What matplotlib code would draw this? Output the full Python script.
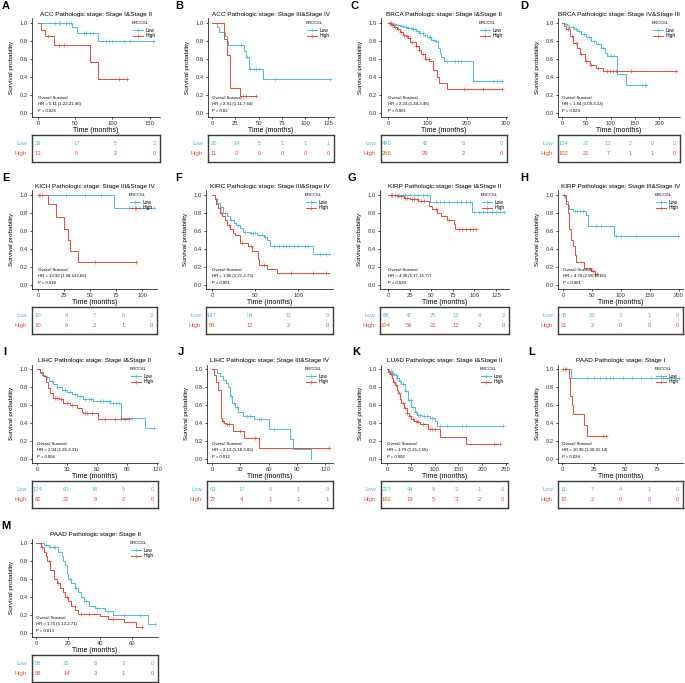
import numpy as np
import matplotlib
matplotlib.use('Agg')
import matplotlib.pyplot as plt
from matplotlib.lines import Line2D

plt.rcParams['font.family'] = ['Liberation Sans', 'DejaVu Sans']

LOW_COLOR = '#4DBBD5'
HIGH_COLOR = '#E64B35'
GROUPS = ['Low', 'High']

# ------------------------------------------------------------------ data
A_TITLE = 'ACC Pathologic stage: Stage I&Stage II'
A_HR = 'HR = 5.11 (1.22-21.46)'; A_P = 'P = 0.026'
A_LOW_T = [0, 46, 53, 80, 156]
A_LOW_S = [1, 0.95, 0.89, 0.80, 0.80]
A_LOW_C = [23, 28, 30, 37, 41, 44, 62, 65, 70, 74, 91, 95, 100, 116, 124, 155]
A_HIGH_T = [0, 4, 10, 21, 70, 80, 120]
A_HIGH_S = [1, 0.92, 0.85, 0.75, 0.56, 0.375, 0.375]
A_HIGH_C = [14, 28, 35, 109, 120]
A_BREAKS = [0, 50, 100, 150]
A_RISK_LOW = [33, 17, 5, 2]
A_RISK_HIGH = [13, 5, 2, 0]

B_TITLE = 'ACC Pathologic stage: Stage III&Stage IV'
B_HR = 'HR = 2.91 (1.11-7.64)'; B_P = 'P = 0.03'
B_LOW_T = [0, 5, 8, 14, 16, 17, 34, 37, 40, 55, 127]
B_LOW_S = [1, 0.95, 0.90, 0.85, 0.80, 0.75, 0.69, 0.62, 0.49, 0.37, 0.37]
B_LOW_C = [31, 38, 41, 45, 47, 51, 68, 127]
B_HIGH_T = [0, 13, 16, 19, 30, 47]
B_HIGH_S = [1, 0.82, 0.64, 0.27, 0.18, 0.18]
B_HIGH_C = [33, 37, 47]
B_BREAKS = [0, 25, 50, 75, 100, 125]
B_RISK_LOW = [20, 14, 5, 1, 1, 1]
B_RISK_HIGH = [11, 3, 0, 0, 0, 0]

C_TITLE = 'BRCA Pathologic stage: Stage I&Stage II'
C_HR = 'HR = 2.23 (1.44-3.46)'; C_P = 'P < 0.001'
C_LOW_T = [0, 5, 10, 15, 20, 30, 40, 50, 60, 70, 80, 90, 100, 110, 120, 128, 131, 135, 143, 217, 290]
C_LOW_S = [1, 0.995, 0.99, 0.985, 0.98, 0.97, 0.96, 0.945, 0.93, 0.91, 0.89, 0.87, 0.84, 0.81, 0.80, 0.72, 0.66, 0.62, 0.58, 0.35, 0.35]
C_LOW_C = [3, 8, 12, 18, 25, 33, 38, 45, 52, 58, 63, 68, 75, 82, 88, 95, 103, 108, 115, 122, 150, 170, 179, 185, 268, 276, 285, 290]
C_HIGH_T = [0, 8, 15, 22, 30, 38, 45, 50, 57, 70, 78, 85, 95, 105, 114, 124, 130, 150, 289]
C_HIGH_S = [1, 0.98, 0.96, 0.93, 0.90, 0.87, 0.85, 0.83, 0.79, 0.74, 0.70, 0.65, 0.60, 0.58, 0.47, 0.40, 0.33, 0.26, 0.26]
C_HIGH_C = [5, 10, 18, 25, 32, 40, 48, 55, 62, 70, 78, 88, 96, 104, 192, 241, 289]
C_BREAKS = [0, 100, 200, 300]
C_RISK_LOW = [490, 42, 6, 0]
C_RISK_HIGH = [266, 29, 2, 0]

D_TITLE = 'BRCA Pathologic stage: Stage IV&Stage III'
D_HR = 'HR = 1.84 (1.08-3.13)'; D_P = 'P = 0.024'
D_LOW_T = [0, 5, 10, 15, 20, 25, 30, 40, 50, 60, 70, 80, 88, 92, 114, 132, 174]
D_LOW_S = [1, 0.99, 0.98, 0.96, 0.95, 0.93, 0.91, 0.88, 0.84, 0.80, 0.77, 0.72, 0.66, 0.63, 0.43, 0.31, 0.31]
D_LOW_C = [8, 15, 22, 28, 35, 45, 55, 65, 75, 85, 100, 108, 164, 171, 174]
D_HIGH_T = [0, 5, 9, 16, 23, 30, 37, 47, 57, 71, 85, 235]
D_HIGH_S = [1, 0.97, 0.93, 0.85, 0.78, 0.72, 0.65, 0.58, 0.53, 0.50, 0.46, 0.46]
D_HIGH_C = [12, 20, 28, 40, 50, 60, 75, 92, 99, 106, 112, 143, 235]
D_BREAKS = [0, 50, 100, 150, 200, 250]
D_RISK_LOW = [154, 37, 13, 2, 0, 0]
D_RISK_HIGH = [102, 21, 7, 1, 1, 0]

E_TITLE = 'KICH Pathologic stage: Stage III&Stage IV'
E_HR = 'HR = 13.92 (1.58-122.66)'; E_P = 'P = 0.018'
E_LOW_T = [0, 73, 111]
E_LOW_S = [1, 0.86, 0.86]
E_LOW_C = [2, 27, 45, 60, 87, 90, 94, 98, 104, 111]
E_HIGH_T = [0, 10, 17, 25, 29, 31, 38, 94]
E_HIGH_S = [1, 0.9, 0.75, 0.625, 0.5, 0.375, 0.25, 0.25]
E_HIGH_C = [1, 4, 55, 94]
E_BREAKS = [0, 25, 50, 75, 100]
E_RISK_LOW = [10, 9, 7, 6, 2]
E_RISK_HIGH = [10, 6, 2, 1, 0]

F_TITLE = 'KIRC Pathologic stage: Stage III&Stage IV'
F_HR = 'HR = 1.86 (1.27-2.73)'; F_P = 'P = 0.001'
F_LOW_T = [0, 3, 6, 9, 13, 17, 21, 25, 28, 32, 36, 44, 52, 60, 64, 68, 118, 136]
F_LOW_S = [1, 0.95, 0.91, 0.87, 0.80, 0.76, 0.72, 0.69, 0.67, 0.63, 0.59, 0.575, 0.55, 0.53, 0.50, 0.435, 0.34, 0.34]
F_LOW_C = [5, 10, 15, 22, 30, 38, 45, 48, 50, 55, 58, 62, 72, 78, 82, 86, 90, 95, 100, 108, 112, 125, 133, 136]
F_HIGH_T = [0, 3, 5, 7, 9, 12, 15, 18, 21, 24, 27, 32, 42, 46, 53, 55, 64, 75, 136]
F_HIGH_S = [1, 0.95, 0.9, 0.85, 0.8, 0.76, 0.725, 0.67, 0.62, 0.58, 0.55, 0.46, 0.43, 0.37, 0.29, 0.22, 0.17, 0.124, 0.124]
F_HIGH_C = [10, 20, 35, 45, 60, 92, 117, 133]
F_BREAKS = [0, 50, 100, 150]
F_RISK_LOW = [147, 54, 11, 0]
F_RISK_HIGH = [58, 12, 2, 0]

G_TITLE = 'KIRP Pathologic stage: Stage I&Stage II'
G_HR = 'HR = 4.30 (1.17-15.77)'; G_P = 'P = 0.028'
G_LOW_T = [0, 49, 97, 134]
G_LOW_S = [1, 0.92, 0.81, 0.81]
G_LOW_C = [5, 10, 13, 17, 20, 25, 30, 35, 40, 45, 55, 60, 65, 70, 80, 85, 90, 95, 100, 105, 110, 115, 120, 125, 130, 134]
G_HIGH_T = [0, 10, 18, 25, 35, 47, 51, 57, 61, 68, 76, 78, 102]
G_HIGH_S = [1, 0.99, 0.97, 0.95, 0.93, 0.88, 0.84, 0.80, 0.76, 0.72, 0.68, 0.62, 0.62]
G_HIGH_C = [3, 5, 8, 12, 15, 20, 22, 28, 30, 33, 38, 42, 55, 70, 82, 86, 90, 95, 98, 102]
G_BREAKS = [0, 25, 50, 75, 100, 125]
G_RISK_LOW = [88, 47, 25, 12, 6, 2]
G_RISK_HIGH = [104, 56, 21, 12, 2, 0]

H_TITLE = 'KIRP Pathologic stage: Stage III&Stage IV'
H_HR = 'HR = 4.70 (2.08-10.60)'; H_P = 'P < 0.001'
H_LOW_T = [0, 3, 6, 9, 11, 17, 40, 44, 88, 200]
H_LOW_S = [1, 0.97, 0.93, 0.89, 0.845, 0.826, 0.78, 0.65, 0.545, 0.545]
H_LOW_C = [20, 25, 30, 35, 57, 66, 92, 100, 126, 198]
H_HIGH_T = [0, 6, 9, 11, 14, 17, 20, 23, 37, 49, 55, 59]
H_HIGH_S = [1, 0.9, 0.8, 0.62, 0.5, 0.43, 0.33, 0.25, 0.19, 0.15, 0.12, 0.12]
H_HIGH_C = [2, 52, 55, 59]
H_BREAKS = [0, 50, 100, 150, 200]
H_RISK_LOW = [45, 10, 3, 1, 0]
H_RISK_HIGH = [21, 2, 0, 0, 0]

I_TITLE = 'LIHC Pathologic stage: Stage I&Stage II'
I_HR = 'HR = 2.04 (1.26-3.31)'; I_P = 'P = 0.004'
I_LOW_T = [0, 3, 5, 8, 12, 16, 20, 25, 30, 35, 40, 46, 56, 73, 84, 108, 117]
I_LOW_S = [1, 0.96, 0.93, 0.91, 0.87, 0.83, 0.80, 0.77, 0.74, 0.72, 0.70, 0.67, 0.64, 0.62, 0.45, 0.337, 0.337]
I_LOW_C = [10, 15, 20, 28, 33, 38, 43, 48, 52, 54, 63, 66, 69, 72, 76, 79, 82, 95, 117]
I_HIGH_T = [0, 3, 6, 9, 11, 13, 16, 22, 26, 33, 40, 45, 46, 61, 92]
I_HIGH_S = [1, 0.97, 0.92, 0.85, 0.79, 0.73, 0.675, 0.66, 0.62, 0.60, 0.56, 0.525, 0.506, 0.44, 0.44]
I_HIGH_C = [18, 20, 24, 30, 35, 48, 50, 55, 68, 78, 84, 88, 92]
I_BREAKS = [0, 30, 60, 90, 120]
I_RISK_LOW = [174, 60, 26, 5, 0]
I_RISK_HIGH = [82, 22, 8, 2, 0]

J_TITLE = 'LIHC Pathologic stage: Stage III&Stage IV'
J_HR = 'HR = 2.13 (1.18-3.82)'; J_P = 'P = 0.012'
J_LOW_T = [0, 5, 8, 12, 15, 17, 19, 21, 24, 28, 33, 42, 44, 60, 83, 86, 105]
J_LOW_S = [1, 0.95, 0.92, 0.88, 0.84, 0.80, 0.70, 0.62, 0.58, 0.52, 0.48, 0.47, 0.44, 0.326, 0.22, 0.11, 0.0]
J_LOW_C = [20, 23, 26, 37, 40, 50, 52, 66]
J_HIGH_T = [0, 2, 4, 6, 10, 11, 13, 15, 22, 34, 50, 124]
J_HIGH_S = [1, 0.93, 0.85, 0.77, 0.45, 0.42, 0.40, 0.38, 0.31, 0.23, 0.115, 0.115]
J_HIGH_C = [12, 16, 18, 30, 45, 124]
J_BREAKS = [0, 30, 60, 90, 120]
J_RISK_LOW = [63, 17, 6, 1, 0]
J_RISK_HIGH = [27, 4, 1, 1, 1]

K_TITLE = 'LUAD Pathologic stage: Stage I&Stage II'
K_HR = 'HR = 1.79 (1.25-2.56)'; K_P = 'P = 0.002'
K_LOW_T = [0, 5, 10, 15, 20, 25, 30, 37, 44, 51, 58, 62, 73, 90, 100, 106, 243]
K_LOW_S = [1, 0.98, 0.96, 0.93, 0.90, 0.87, 0.83, 0.75, 0.656, 0.58, 0.525, 0.49, 0.47, 0.45, 0.42, 0.364, 0.364]
K_LOW_C = [8, 12, 18, 22, 28, 33, 40, 46, 50, 55, 60, 65, 70, 78, 85, 95, 112, 125, 158, 165, 243]
K_HIGH_T = [0, 3, 6, 10, 13, 16, 20, 23, 27, 30, 35, 41, 46, 51, 56, 62, 69, 87, 111, 166, 238]
K_HIGH_S = [1, 0.97, 0.94, 0.90, 0.86, 0.82, 0.77, 0.73, 0.67, 0.62, 0.56, 0.51, 0.47, 0.44, 0.42, 0.41, 0.38, 0.33, 0.244, 0.165, 0.165]
K_HIGH_C = [5, 9, 15, 18, 25, 33, 38, 43, 48, 54, 60, 66, 75, 90, 95, 100, 225, 238]
K_BREAKS = [0, 50, 100, 150, 200, 250]
K_RISK_LOW = [227, 44, 9, 3, 1, 0]
K_RISK_HIGH = [162, 19, 5, 3, 2, 0]

L_TITLE = 'PAAD Pathologic stage: Stage I'
L_HR = 'HR = 10.90 (1.30-91.14)'; L_P = 'P = 0.028'
L_LOW_T = [0, 7, 92]
L_LOW_S = [1, 0.9, 0.9]
L_LOW_C = [2, 20, 25, 30, 35, 38, 40, 48, 55, 62, 70, 80, 88, 92]
L_HIGH_T = [0, 5.5, 6, 6.5, 7.5, 8.5, 17, 20, 35]
L_HIGH_S = [1, 0.9, 0.8, 0.7, 0.6, 0.5, 0.375, 0.25, 0.25]
L_HIGH_C = [0.5, 3, 32, 35]
L_BREAKS = [0, 25, 50, 75, 100]
L_RISK_LOW = [11, 7, 4, 1, 0]
L_RISK_HIGH = [10, 2, 0, 0, 0]

M_TITLE = 'PAAD Pathologic stage: Stage II'
M_HR = 'HR = 1.75 (1.13-2.71)'; M_P = 'P = 0.013'
M_LOW_T = [0, 5, 8, 14, 16, 17, 18, 19, 20, 22, 24, 26, 28, 30, 33, 37, 43, 48, 70, 74]
M_LOW_S = [1, 0.98, 0.95, 0.90, 0.85, 0.80, 0.75, 0.65, 0.60, 0.55, 0.50, 0.45, 0.40, 0.35, 0.30, 0.27, 0.24, 0.20, 0.10, 0.10]
M_LOW_C = [3, 6, 9, 11, 12, 21, 25, 31, 38, 45, 55, 65, 74]
M_HIGH_T = [0, 3, 5, 6, 7, 9, 11, 13, 15, 17, 18, 20, 22, 24, 26, 40, 45, 55, 62, 66]
M_HIGH_S = [1, 0.95, 0.90, 0.85, 0.80, 0.70, 0.60, 0.55, 0.50, 0.45, 0.40, 0.35, 0.30, 0.25, 0.21, 0.18, 0.15, 0.12, 0.06, 0.06]
M_HIGH_C = [4, 8, 14, 19, 28, 33, 48, 66]
M_BREAKS = [0, 20, 40, 60, 80]
M_RISK_LOW = [58, 30, 8, 3, 0]
M_RISK_HIGH = [58, 14, 3, 1, 0]

# ------------------------------------------------------------------ layout (pixels)
W, H = 685, 683
ROWS = [0, 172, 346, 520]
LAYOUT = {
    # letter: (row, letter_x, axes_left, axes_right, xlim, xticks)
    'A': (0, 2, 32, 160, (-8.1, 164), [0, 50, 100, 150]),
    'B': (0, 175, 208, 334, (-4.3, 131), [0, 25, 50, 75, 100, 125]),
    'C': (0, 350, 381, 507, (-17.8, 302.5), [0, 100, 200, 300]),
    'D': (0, 520, 558, 680, (-8.2, 243), [0, 50, 100, 150, 200]),
    'E': (1, 2, 32, 157, (-5.8, 114), [0, 25, 50, 75, 100]),
    'F': (1, 175, 206, 333, (-7, 140.7), [0, 50, 100]),
    'G': (1, 347, 380, 509, (-9.3, 140), [0, 25, 50, 75, 100, 125]),
    'H': (1, 520, 558, 683, (-8.6, 207), [0, 50, 100, 150, 200]),
    'I': (2, 3, 32, 158, (-5, 121), [0, 30, 60, 90, 120]),
    'J': (2, 178, 207, 333, (-5.3, 128), [0, 30, 60, 90, 120]),
    'K': (2, 352, 381, 508, (-12.6, 254), [0, 50, 100, 150, 200, 250]),
    'L': (2, 528, 558, 683, (-3.2, 95.5), [0, 25, 50, 75]),
    'M': (3, 1, 32, 158, (-2.5, 76), [0, 20, 40, 60]),
}

PANEL_DATA = {
    'A': (A_TITLE, A_HR, A_P, A_LOW_T, A_LOW_S, A_LOW_C, A_HIGH_T, A_HIGH_S, A_HIGH_C, A_BREAKS, A_RISK_LOW, A_RISK_HIGH),
    'B': (B_TITLE, B_HR, B_P, B_LOW_T, B_LOW_S, B_LOW_C, B_HIGH_T, B_HIGH_S, B_HIGH_C, B_BREAKS, B_RISK_LOW, B_RISK_HIGH),
    'C': (C_TITLE, C_HR, C_P, C_LOW_T, C_LOW_S, C_LOW_C, C_HIGH_T, C_HIGH_S, C_HIGH_C, C_BREAKS, C_RISK_LOW, C_RISK_HIGH),
    'D': (D_TITLE, D_HR, D_P, D_LOW_T, D_LOW_S, D_LOW_C, D_HIGH_T, D_HIGH_S, D_HIGH_C, D_BREAKS, D_RISK_LOW, D_RISK_HIGH),
    'E': (E_TITLE, E_HR, E_P, E_LOW_T, E_LOW_S, E_LOW_C, E_HIGH_T, E_HIGH_S, E_HIGH_C, E_BREAKS, E_RISK_LOW, E_RISK_HIGH),
    'F': (F_TITLE, F_HR, F_P, F_LOW_T, F_LOW_S, F_LOW_C, F_HIGH_T, F_HIGH_S, F_HIGH_C, F_BREAKS, F_RISK_LOW, F_RISK_HIGH),
    'G': (G_TITLE, G_HR, G_P, G_LOW_T, G_LOW_S, G_LOW_C, G_HIGH_T, G_HIGH_S, G_HIGH_C, G_BREAKS, G_RISK_LOW, G_RISK_HIGH),
    'H': (H_TITLE, H_HR, H_P, H_LOW_T, H_LOW_S, H_LOW_C, H_HIGH_T, H_HIGH_S, H_HIGH_C, H_BREAKS, H_RISK_LOW, H_RISK_HIGH),
    'I': (I_TITLE, I_HR, I_P, I_LOW_T, I_LOW_S, I_LOW_C, I_HIGH_T, I_HIGH_S, I_HIGH_C, I_BREAKS, I_RISK_LOW, I_RISK_HIGH),
    'J': (J_TITLE, J_HR, J_P, J_LOW_T, J_LOW_S, J_LOW_C, J_HIGH_T, J_HIGH_S, J_HIGH_C, J_BREAKS, J_RISK_LOW, J_RISK_HIGH),
    'K': (K_TITLE, K_HR, K_P, K_LOW_T, K_LOW_S, K_LOW_C, K_HIGH_T, K_HIGH_S, K_HIGH_C, K_BREAKS, K_RISK_LOW, K_RISK_HIGH),
    'L': (L_TITLE, L_HR, L_P, L_LOW_T, L_LOW_S, L_LOW_C, L_HIGH_T, L_HIGH_S, L_HIGH_C, L_BREAKS, L_RISK_LOW, L_RISK_HIGH),
    'M': (M_TITLE, M_HR, M_P, M_LOW_T, M_LOW_S, M_LOW_C, M_HIGH_T, M_HIGH_S, M_HIGH_C, M_BREAKS, M_RISK_LOW, M_RISK_HIGH),
}

fig = plt.figure(figsize=(W / 100, H / 100), dpi=100)


def fx(px):
    return px / W


def fy(py):
    return 1 - py / H


def axes_px(left, top, right, bottom):
    return fig.add_axes([fx(left), fy(bottom), (right - left) / W, (bottom - top) / H])


def step_value(T, S, c):
    i = np.searchsorted(np.asarray(T, float), c, side='right') - 1
    return np.asarray(S, float)[np.clip(i, 0, len(S) - 1)]


def ftext(x, y, s, **kw):
    fig.text(fx(x), fy(y), s, **kw)


for letter, (row, lx, L, R, xlim, xticks) in LAYOUT.items():
    (title, hr, p, lt, ls, lc, ht, hs, hc, breaks, rlow, rhigh) = PANEL_DATA[letter]
    oy = ROWS[row]

    ax = axes_px(L, oy + 18.5, R, oy + 117)
    ax.set_xlim(*xlim)
    ax.set_ylim(-0.05, 1.05)
    for T, S, C, col in ((lt, ls, lc, LOW_COLOR), (ht, hs, hc, HIGH_COLOR)):
        ax.step(T, S, where='post', color=col, lw=0.7, clip_on=False)
        ax.plot(C, step_value(T, S, C), ls='none', marker='+', ms=2.6, mew=0.45, color=col, clip_on=False)
    ax.set_xticks(xticks)
    ax.set_yticks([0, 0.2, 0.4, 0.6, 0.8, 1.0])
    ax.set_yticklabels(['0.0', '0.2', '0.4', '0.6', '0.8', '1.0'])
    ax.tick_params(labelsize=4.2, length=1.6, width=0.5, pad=1.2, colors='black', labelcolor='#333333')
    for sp in ('top', 'right'):
        ax.spines[sp].set_visible(False)
    for sp in ('left', 'bottom'):
        ax.spines[sp].set_linewidth(0.5)
    ax.text(0, 0.16, 'Overall Survival', fontsize=3.1, va='center', ha='left')
    ax.text(0, 0.09, hr, fontsize=3.1, va='center', ha='left')
    ax.text(0, 0.02, p, fontsize=3.1, va='center', ha='left')

    # titles and labels
    ftext((L + R) / 2, oy + 14.5, title, fontsize=4.6, ha='center', va='center')
    ftext(lx, oy + 6, letter, fontsize=8, fontweight='bold', ha='left', va='center')
    ftext((L + R) / 2, oy + 131, 'Time (months)', fontsize=5, ha='center', va='center')
    ftext(L - 20, oy + 67.5, 'Survival probability', fontsize=4.6, rotation=90, ha='center', va='center')

    # legend
    ftext(R - 28, oy + 23, 'ERCC6L', fontsize=3.1, ha='left', va='center')
    for k, (g, col) in enumerate(zip(GROUPS, (LOW_COLOR, HIGH_COLOR))):
        yy = fy(oy + 30 + 6 * k)
        fig.add_artist(Line2D([fx(R - 27), fx(R - 17)], [yy, yy], color=col, lw=0.7, transform=fig.transFigure))
        fig.add_artist(Line2D([fx(R - 22)], [yy], color=col, marker='+', ms=2.6, mew=0.45, transform=fig.transFigure))
        ftext(R - 14, oy + 30 + 6 * k, g, fontsize=3.5, ha='left', va='center')

    # risk table
    axt = axes_px(L, oy + 135, R, oy + 162)
    T_last = breaks[-1]
    axt.set_xlim(-0.05 * T_last, 1.05 * T_last)
    axt.set_ylim(0, 1)
    axt.set_xticks([]); axt.set_yticks([])
    for sp in axt.spines.values():
        sp.set_linewidth(1.0)
        sp.set_color('#3a3a3a')
    for vals, yv, col, g in ((rlow, 0.70, LOW_COLOR, 'Low'), (rhigh, 0.30, HIGH_COLOR, 'High')):
        for b, v in zip(breaks, vals):
            axt.text(b, yv, str(v), fontsize=4.2, color=col, ha='center', va='center')
        axt.text(-0.04, yv, g, fontsize=4.2, color=col, ha='right', va='center', transform=axt.transAxes)

fig.savefig('out.png', dpi=100)
